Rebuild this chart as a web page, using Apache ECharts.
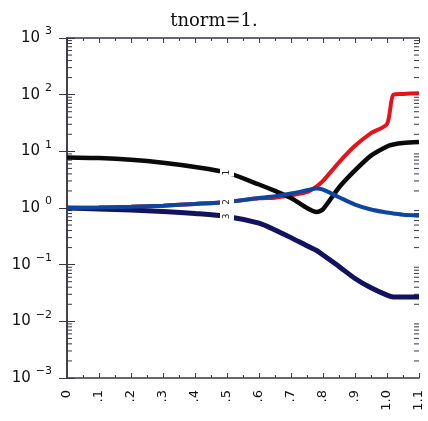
<!DOCTYPE html>
<html>
<head>
<meta charset="utf-8">
<script src="https://cdn.jsdelivr.net/npm/echarts@6/dist/echarts.min.js"></script>
<style>
    html, body { margin: 0; padding: 0; background: #fff; }
    #chart { width: 428px; height: 421px; }
</style>
</head>
<body>
<div id="chart"></div>
<script>
// x positions shared by all curves
var xs     = [0, 0.1, 0.2, 0.3, 0.4, 0.5, 0.6, 0.65, 0.7, 0.75, 0.78, 0.8, 0.85, 0.9, 0.95, 1.0, 1.02, 1.05, 1.1];
// curve 1 (black)
var curve1 = [7.8, 7.6, 7.1, 6.3, 5.3, 4.2, 2.6, 2.0, 1.5, 1.0, 0.85, 0.95, 2.3, 4.6, 8.4, 12.2, 13.2, 14.0, 14.6];
// curve 2 (blue)
var curve2 = [1.0, 1.02, 1.05, 1.1, 1.18, 1.28, 1.5, 1.62, 1.8, 2.05, 2.2, 2.1, 1.55, 1.15, 0.94, 0.83, 0.8, 0.76, 0.74];
// curve 3 (navy)
var curve3 = [1.0, 0.96, 0.92, 0.87, 0.8, 0.71, 0.54, 0.41, 0.3, 0.215, 0.178, 0.148, 0.093, 0.057, 0.039, 0.029, 0.027, 0.027, 0.027];
// red curve, under curve 2 at the start
var curveRed = [1.0, 1.02, 1.05, 1.1, 1.18, 1.28, 1.48, 1.52, 1.68, 1.9, 2.4, 3.0, 6.4, 12.5, 21, 30.5, 100, 103, 106];

var decades = [-3, -2, -1, 0, 1, 2, 3];
var minorMults = [2, 3, 4, 5, 6, 7, 8, 9];
var labelAt = 0.5;

var axisColor = '#3a3444';

function makeData(vals, name) {
    var res = [];
    for (var i = 0; i < xs.length; i++) {
        if (name && xs[i] === labelAt) {
            res.push({
                value: [xs[i], vals[i]],
                symbol: 'circle',
                symbolSize: 1,
                itemStyle: { borderWidth: 0 },
                label: {
                    show: true,
                    formatter: name,
                    position: 'inside',
                    rotate: 90,
                    fontSize: 9,
                    lineHeight: 8,
                    fontFamily: 'DejaVu Sans',
                    color: '#222',
                    backgroundColor: '#fff',
                    padding: [3, 1]
                }
            });
        } else {
            res.push({ value: [xs[i], vals[i]], symbol: 'none' });
        }
    }
    return res;
}

function supLabel(v) {
    var e = Math.round(Math.log(v) / Math.LN10);
    var s = e < 0 ? '\u2212' + (-e) : '' + e;
    return '{b|10}{s|' + s + '}';
}

// log minor tick values (2..9 per decade)
var minorVals = [];
for (var d = 0; d < decades.length - 1; d++) {
    for (var m = 0; m < minorMults.length; m++) {
        minorVals.push([0, minorMults[m] * Math.pow(10, decades[d])]);
    }
}

var myChart = echarts.init(document.getElementById('chart'));
var lineSeries = function (name, vals, color, width, z, label) {
    return {
        name: name,
        type: 'line',
        data: makeData(vals, label ? name : null),
        showSymbol: true,
        showAllSymbol: true,
        smooth: 0.25,
        silent: true,
        z: z,
        lineStyle: { color: color, width: width },
        itemStyle: { color: color }
    };
};

var option = {
    animation: false,
    title: {
        text: 'tnorm=1.',
        left: 'center',
        top: 7,
        textStyle: { fontFamily: 'DejaVu Serif', fontWeight: 'normal', fontSize: 18, color: '#111' }
    },
    grid: { left: 67, right: 9, top: 38, bottom: 43 },
    xAxis: [{
        type: 'value',
        min: 0,
        max: 1.1,
        interval: 0.1,
        axisLine: { show: true, lineStyle: { color: axisColor, width: 1.5 } },
        axisTick: { show: true, inside: true, length: 5, lineStyle: { color: axisColor } },
        minorTick: { show: true, splitNumber: 2, length: 3, lineStyle: { color: axisColor } },
        splitLine: { show: false },
        axisLabel: {
            rotate: 90,
            margin: 12,
            fontSize: 13,
            fontFamily: 'DejaVu Sans',
            color: '#111',
            formatter: function (v) {
                if (v === 0) return '0';
                if (v >= 0.999) return v.toFixed(1);
                return '.' + Math.round(v * 10);
            }
        }
    }, {
        type: 'value',
        position: 'top',
        min: 0,
        max: 1.1,
        interval: 0.1,
        axisLine: { show: true, lineStyle: { color: axisColor, width: 1.5 } },
        axisTick: { show: true, inside: true, length: 5, lineStyle: { color: axisColor } },
        minorTick: { show: true, splitNumber: 2, length: 3, lineStyle: { color: axisColor } },
        splitLine: { show: false },
        axisLabel: { show: false }
    }],
    yAxis: [{
        type: 'log',
        min: 0.001,
        max: 1000,
        logBase: 10,
        axisLine: { show: true, lineStyle: { color: axisColor, width: 1.5 } },
        axisTick: { show: true, inside: true, length: 8, lineStyle: { color: axisColor } },
        splitLine: { show: false },
        axisLabel: {
            margin: 15,
            color: '#111',
            formatter: supLabel,
            rich: {
                b: { fontSize: 15, fontFamily: 'DejaVu Sans', color: '#111' },
                s: { fontSize: 11, fontFamily: 'DejaVu Sans', color: '#111', padding: [0, 0, 13, 5] }
            }
        }
    }, {
        type: 'log',
        position: 'right',
        min: 0.001,
        max: 1000,
        logBase: 10,
        axisLine: { show: true, lineStyle: { color: axisColor, width: 1.5 } },
        axisTick: { show: true, inside: true, length: 8, lineStyle: { color: axisColor } },
        splitLine: { show: false },
        axisLabel: { show: false }
    }],
    series: [
        {
            name: 'minor',
            type: 'custom',
            silent: true,
            z: 1,
            data: minorVals,
            renderItem: function (params, api) {
                var p = api.coord([0, api.value(1)]);
                var q = api.coord([1.1, api.value(1)]);
                var st = { stroke: axisColor, lineWidth: 1 };
                return {
                    type: 'group',
                    children: [
                        { type: 'line', shape: { x1: p[0], y1: p[1], x2: p[0] + 5, y2: p[1] }, style: st },
                        { type: 'line', shape: { x1: q[0] - 5, y1: q[1], x2: q[0], y2: q[1] }, style: st }
                    ]
                };
            }
        },
        lineSeries('r', curveRed, '#e5141a', 4, 2, false),
        lineSeries('1', curve1, '#0a0a0a', 4.5, 3, true),
        lineSeries('3', curve3, '#12125e', 5, 3, true),
        lineSeries('2', curve2, '#0e45a0', 4, 4, true)
    ]
};
myChart.setOption(option);
</script>
</body>
</html>
